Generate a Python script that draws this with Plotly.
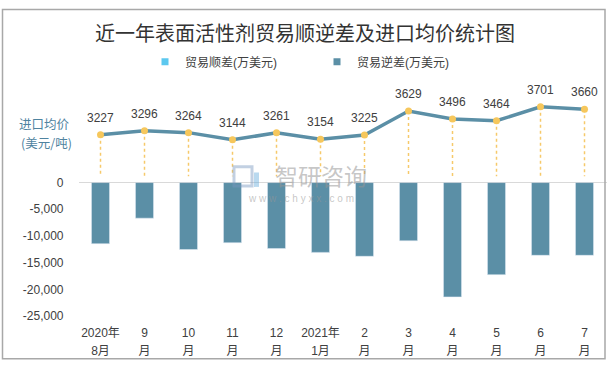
import plotly.graph_objects as go

W, H = 609, 369

# ---------------- data ----------------
month_top = ["2020年", "9", "10", "11", "12", "2021年", "2", "3", "4", "5", "6", "7"]
month_bottom = ["8月", "月", "月", "月", "月", "1月", "月", "月", "月", "月", "月", "月"]
surplus = [None] * 12  # 贸易顺差(万美元) - no values in period
deficit = [-11450, -6670, -12540, -11270, -12360, -13080,
           -13810, -10910, -21420, -17250, -13630, -13630]
price = [3227, 3296, 3264, 3144, 3261, 3154, 3225, 3629, 3496, 3464, 3701, 3660]
ytick_vals = [0, -5000, -10000, -15000, -20000, -25000]
series_names = ["贸易顺差(万美元)", "贸易逆差(万美元)"]
series_colors = ["#5cc8ef", "#5b8fa6"]

idx = list(range(len(month_top)))

def px(p):
    return p / W

def py(p):
    return 1 - p / H

PRICE_MIN, PRICE_MAX = 2522, 3923
TXT = "#404040"
FONT = "Liberation Sans, Noto Sans CJK SC, sans-serif"

fig = go.Figure()

# bars
for vals, name, col in zip([surplus, deficit], series_names, series_colors):
    fig.add_trace(go.Bar(x=idx, y=vals, name=name, marker_color=col,
                         width=0.41, xaxis="x", yaxis="y", showlegend=False))
# small square legend entries
for name, col in zip(series_names, series_colors):
    fig.add_trace(go.Scatter(x=[None], y=[None], mode="markers", name=name,
                             marker=dict(symbol="square", size=7, color=col),
                             xaxis="x", yaxis="y"))

# dotted drop lines from price points
dx, dy = [], []
for i, v in zip(idx, price):
    dx += [i, i, None]
    dy += [v, PRICE_MIN, None]
fig.add_trace(go.Scatter(x=dx, y=dy, mode="lines", xaxis="x2", yaxis="y2",
                         line=dict(color="#f6c96a", width=1.5, dash="dot"),
                         showlegend=False, hoverinfo="skip"))

# price line
fig.add_trace(go.Scatter(x=idx, y=price, mode="lines+markers", xaxis="x2", yaxis="y2",
                         line=dict(color="#5b8fa6", width=3.5),
                         marker=dict(color="#f6c75c", size=7),
                         showlegend=False))

annotations = []
for i, v in zip(idx, price):
    annotations.append(dict(x=i, y=v, xref="x2", yref="y2", text=str(v), showarrow=False,
                            xanchor="center", yanchor="middle",
                            yshift=17, font=dict(size=12, color=TXT, family=FONT)))

def pann(x, y, text, size, color, family):
    return dict(x=px(x), y=py(y), xref="paper", yref="paper", text=text, showarrow=False,
                xanchor="center", yanchor="middle", align="center",
                font=dict(size=size, color=color, family=family))

annotations.append(pann(44, 121, "进口均价", 12.5, "#4f83a0", "Noto Sans CJK SC"))
annotations.append(pann(46, 141, "(美元/吨)", 12.5, "#4f83a0", "Noto Sans CJK SC"))
annotations.append(pann(305, 26, "近一年表面活性剂贸易顺逆差及进口均价统计图", 20, "#333333", "Noto Sans CJK SC"))
annotations.append(pann(321, 175, "智研咨询", 23, "rgba(150,150,150,0.55)", "Noto Sans CJK SC"))
annotations.append(pann(301, 199, "w w w . c h y x x . c o m", 10, "rgba(150,150,150,0.55)", FONT))

shapes = [
    dict(type="rect", xref="paper", yref="paper", x0=px(2.5), x1=px(605), y0=py(365.5), y1=py(2.5),
         line=dict(color="#a8a8a8", width=1.5), fillcolor="rgba(0,0,0,0)"),
    # watermark logo
    dict(type="rect", xref="paper", yref="paper", x0=px(234), x1=px(252), y0=py(186), y1=py(166),
         line=dict(color="rgba(120,150,190,0.45)", width=3), fillcolor="rgba(0,0,0,0)"),
    dict(type="rect", xref="paper", yref="paper", x0=px(254), x1=px(259), y0=py(187), y1=py(172),
         line=dict(width=0), fillcolor="rgba(100,170,220,0.45)"),
]

xr = [-0.5, 11.5]
xdom = [px(78.5), px(606.5)]
tickfont = dict(size=12, color=TXT, family=FONT)
fig.update_layout(
    width=W, height=H, autosize=False,
    margin=dict(l=0, r=0, t=0, b=0),
    paper_bgcolor="white", plot_bgcolor="white",
    barmode="overlay",
    xaxis=dict(domain=xdom, range=xr, anchor="y",
               tickmode="array", tickvals=idx, ticktext=month_top,
               showgrid=False, zeroline=False, showline=False, ticks="",
               ticklabelstandoff=8, tickfont=tickfont),
    xaxis2=dict(domain=xdom, range=xr, anchor="free", position=py(340),
                tickmode="array", tickvals=idx, ticktext=month_bottom,
                showgrid=False, zeroline=False, showline=False, ticks="",
                ticklabelstandoff=8, tickfont=tickfont),
    yaxis=dict(domain=[py(321.2), py(182.5)], range=[-25000, 0],
               tickmode="array", tickvals=ytick_vals, ticktext=[f"{v:,}" for v in ytick_vals],
               showgrid=False, zeroline=True, zerolinecolor="#d9d9d9", zerolinewidth=1,
               showline=False, ticks="", ticklabelstandoff=14, tickfont=tickfont),
    yaxis2=dict(domain=[py(176.3), py(90)], range=[PRICE_MIN, PRICE_MAX], anchor="x2",
                showticklabels=False, showgrid=False, zeroline=False, showline=False),
    legend=dict(orientation="h", x=px(145), y=py(57), xanchor="left", yanchor="middle",
                entrywidth=127, font=dict(size=12, color=TXT, family=FONT),
                bgcolor="rgba(0,0,0,0)", itemwidth=30),
    annotations=annotations,
    shapes=shapes,
    showlegend=True,
)

fig.write_html("out.html", config={"displayModeBar": False},
               post_script="document.body.style.margin='0';document.body.style.overflow='hidden';")
